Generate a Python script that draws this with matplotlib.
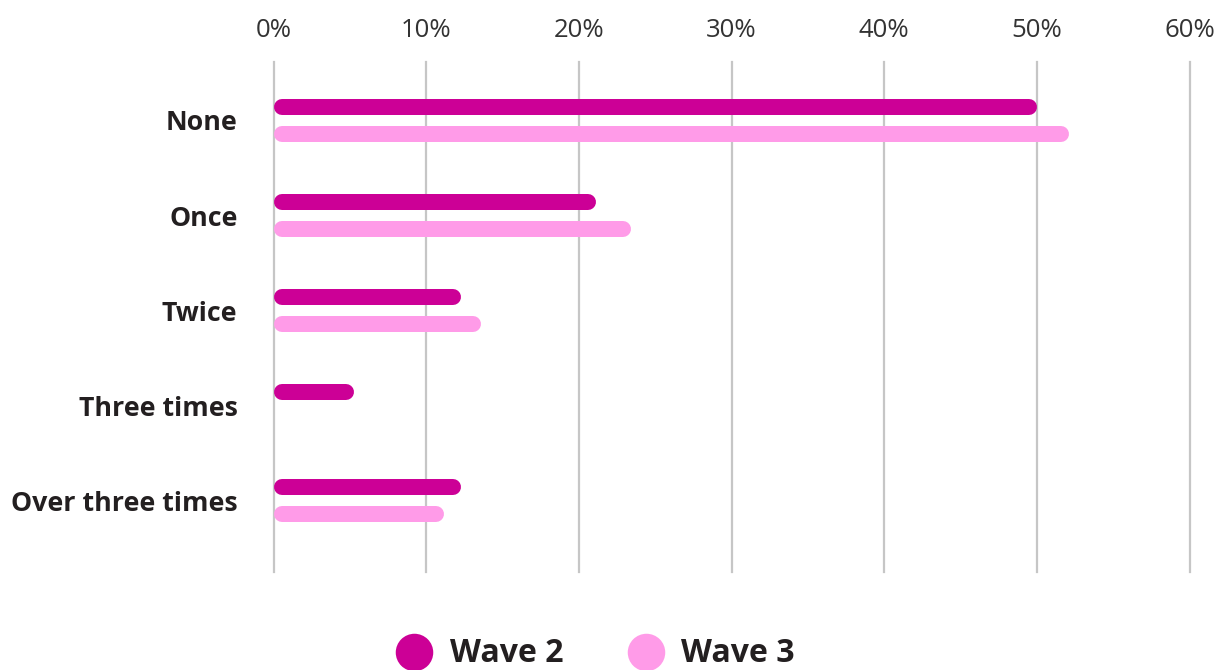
import numpy as np
import matplotlib
matplotlib.use("Agg")
import matplotlib.pyplot as plt
from matplotlib.lines import Line2D

plt.rcParams['font.family'] = ['Open Sans', 'DejaVu Sans']

categories = ["None", "Once", "Twice", "Three times", "Over three times"]
wave2 = [50.0, 21.1, 12.3, 5.3, 12.3]
wave3 = [52.1, 23.4, 13.6, 0.0, 11.2]
ticks = [0, 10, 20, 30, 40, 50, 60]
tick_labels = [f"{t}%" for t in ticks]

c_w2 = "#cc0096"
c_w3 = "#ff9be8"
text_col = "#231f20"

W, H = 1218, 670
fig = plt.figure(figsize=(W / 100, H / 100), dpi=100)
ax_left, ax_right, ax_top, ax_bot = 273.5, 1189.5, 62, 572
ax = fig.add_axes([ax_left / W, 1 - ax_bot / H, (ax_right - ax_left) / W, (ax_bot - ax_top) / H])

ax.set_xlim(0, 60)
ax.set_ylim(4.748, -0.615)

# grid (not clipped so the 0% and 60% lines keep full width)
for t in ticks:
    ax.axvline(t, color="#c6c6c6", lw=1.6, zorder=0, clip_on=False)

# rounded bars drawn as thick lines with round caps
bar_px = 16
lw_pt = bar_px * 72 / 100
r = (60 / (ax_right - ax_left)) * bar_px / 2
y = np.arange(len(categories))
off = 0.142
for vals, dy, col in [(wave2, -off, c_w2), (wave3, off, c_w3)]:
    for yi, v in zip(y, vals):
        if v <= 0:
            continue
        x0, x1 = r, max(v - r, r)
        ax.plot([x0, x1], [yi + dy, yi + dy], color=col, lw=lw_pt,
                solid_capstyle="round", zorder=3)

ax.xaxis.tick_top()
ax.set_xticks(ticks)
ax.set_xticklabels(tick_labels, fontsize=18.5, color="#333333")
ax.set_yticks(y)
ax.set_yticklabels(categories, fontsize=19.3, fontweight="bold", color=text_col)
ax.tick_params(axis="x", length=0, pad=14)
ax.tick_params(axis="y", length=0, pad=26)
for s in ax.spines.values():
    s.set_visible(False)

# legend
for cx, tx, col, lab in [(414, 450, c_w2, "Wave 2"), (646, 681, c_w3, "Wave 3")]:
    fig.add_artist(Line2D([cx / W], [1 - 652 / H], marker="o", markersize=27,
                          color=col, markeredgewidth=0, transform=fig.transFigure))
    fig.text(tx / W, 1 - 653 / H, lab, fontsize=23, fontweight="bold",
             color=text_col, va="center", ha="left")

fig.savefig("out.png", dpi=100)
